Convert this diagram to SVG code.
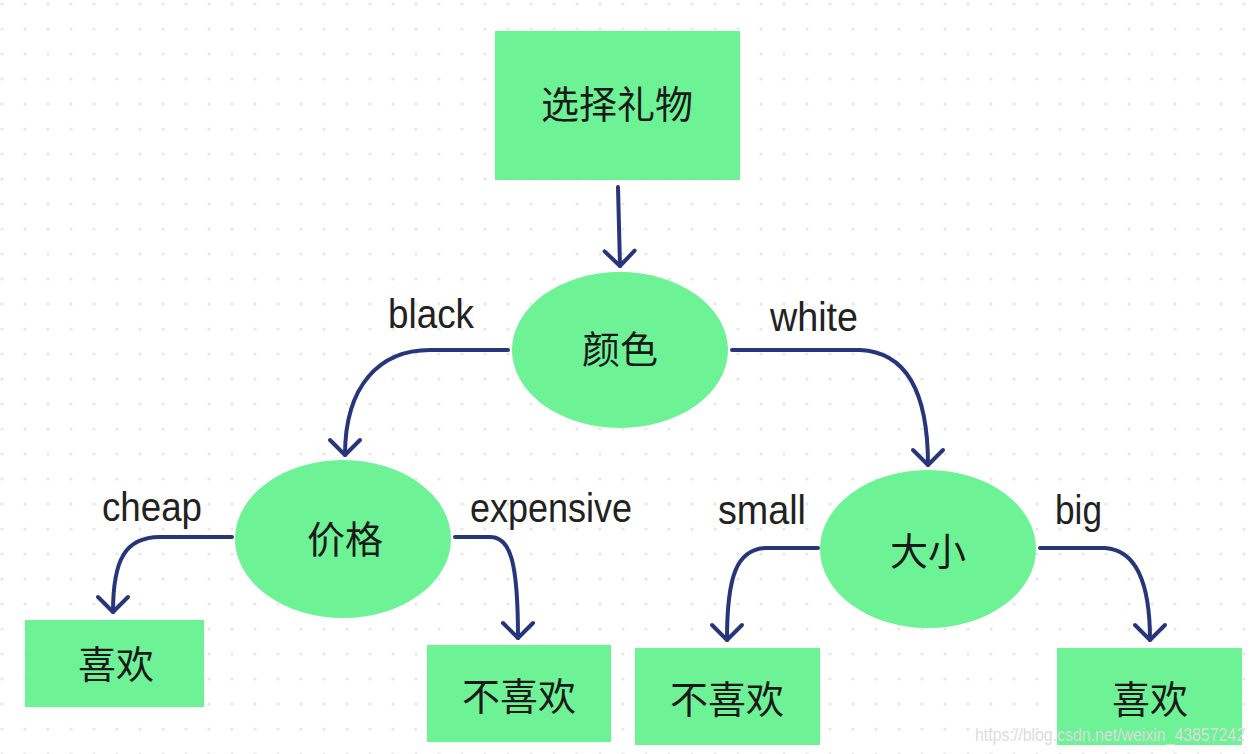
<svg xmlns="http://www.w3.org/2000/svg" width="1256" height="754" viewBox="0 0 1256 754">
<defs>
<pattern id="dots" x="0" y="2" width="23" height="25" patternUnits="userSpaceOnUse">
<circle cx="2" cy="2" r="1.6" fill="#e6e6e6"/>
</pattern>
<marker id="arr" viewBox="-20 -20 40 40" markerWidth="40" markerHeight="40" refX="0" refY="0" orient="auto" markerUnits="userSpaceOnUse">
<path d="M-15,-15 L0,0 L-15,15" fill="none" stroke="#27357a" stroke-width="4" stroke-linecap="round" stroke-linejoin="round"/>
</marker>
<style>
.box{fill:#6ef296;}
.zh{font-family:"Noto Sans CJK SC",sans-serif;font-size:38px;fill:#1a1a1a;text-anchor:middle;}
.en{font-family:"Liberation Sans",Arial,sans-serif;font-size:40px;fill:#222;}
.c{fill:none;stroke:#27357a;stroke-width:4;stroke-linecap:round;marker-end:url(#arr);}
.wm{font-family:"Liberation Sans",Arial,sans-serif;font-size:18px;fill:#dcdcdc;}
</style>
</defs>
<rect width="1256" height="754" fill="#ffffff"/>
<rect width="1256" height="754" fill="url(#dots)"/>

<g id="connectors">
<path class="c" d="M618,187 L620,266"/>
<path class="c" d="M508,350 H430 C380,350 345,385 345,455"/>
<path class="c" d="M732,350 H860 C905,352 928,390 928,465"/>
<path class="c" d="M232,537 H160 C125,537 113,560 113,612"/>
<path class="c" d="M455,537 H490 C510,537 518,560 518,638"/>
<path class="c" d="M818,548 H765 C737,550 727,575 727,640"/>
<path class="c" d="M1040,548 H1105 C1135,550 1150,580 1150,640"/>
</g>

<g id="labels">
<text class="en" x="388" y="328" textLength="86" lengthAdjust="spacingAndGlyphs">black</text>
<text class="en" x="770" y="331" textLength="88" lengthAdjust="spacingAndGlyphs">white</text>
<text class="en" x="102" y="521" textLength="100" lengthAdjust="spacingAndGlyphs">cheap</text>
<text class="en" x="470" y="522" textLength="162" lengthAdjust="spacingAndGlyphs">expensive</text>
<text class="en" x="718" y="524" textLength="88" lengthAdjust="spacingAndGlyphs">small</text>
<text class="en" x="1055" y="524" textLength="47" lengthAdjust="spacingAndGlyphs">big</text>
</g>

<g id="n-root">
<rect class="box" x="495" y="31" width="245" height="149"/>
<text class="zh" x="617" y="118">选择礼物</text>
</g>
<g id="n-color">
<ellipse class="box" cx="620" cy="350" rx="108" ry="78"/>
<text class="zh" x="620" y="363">颜色</text>
</g>
<g id="n-price">
<ellipse class="box" cx="343" cy="539" rx="108" ry="79"/>
<text class="zh" x="345" y="553">价格</text>
</g>
<g id="n-size">
<ellipse class="box" cx="928" cy="549" rx="108" ry="79"/>
<text class="zh" x="928" y="565">大小</text>
</g>
<g id="n-like1">
<rect class="box" x="25" y="620" width="179" height="87"/>
<text class="zh" x="116" y="678">喜欢</text>
</g>
<g id="n-dislike1">
<rect class="box" x="427" y="645" width="184" height="97"/>
<text class="zh" x="519" y="710">不喜欢</text>
</g>
<g id="n-dislike2">
<rect class="box" x="635" y="648" width="185" height="97"/>
<text class="zh" x="727" y="713">不喜欢</text>
</g>
<g id="n-like2">
<rect class="box" x="1057" y="648" width="185" height="97"/>
<text class="zh" x="1150" y="713">喜欢</text>
</g>

<text class="wm" x="975" y="741" textLength="270" lengthAdjust="spacingAndGlyphs">https://blog.csdn.net/weixin_43857242</text>
</svg>
